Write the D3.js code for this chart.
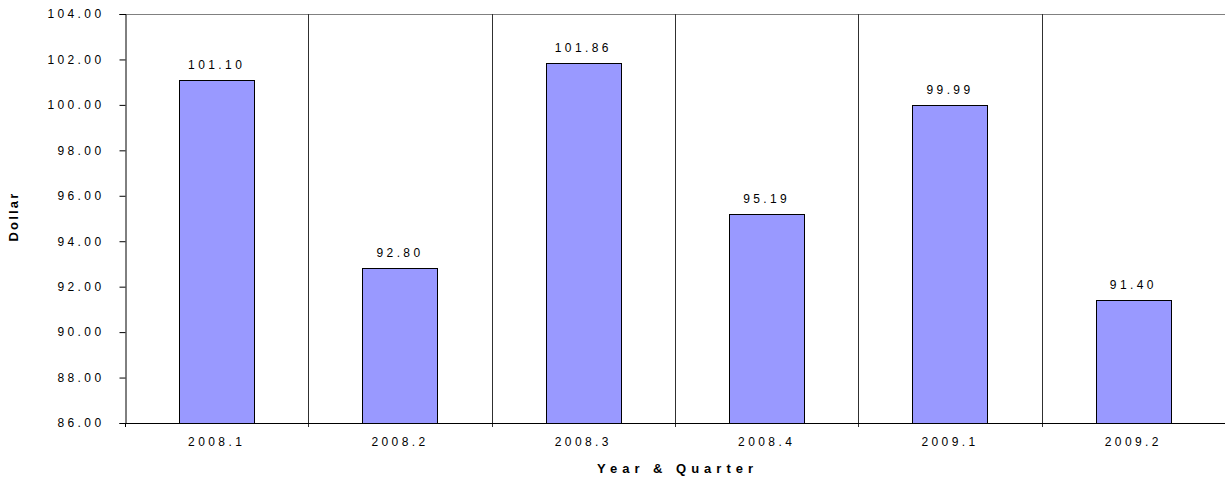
<!DOCTYPE html>
<html>
<head>
<meta charset="utf-8">
<script src="https://cdn.jsdelivr.net/npm/d3@7"></script>
<style>
  html, body { margin: 0; padding: 0; background: #fff; }
  svg { display: block; font-family: Arial, "Liberation Sans", sans-serif; }
</style>
</head>
<body>
<svg id="chart" width="1225" height="479"></svg>
<script>
const categories = ["2008.1", "2008.2", "2008.3", "2008.4", "2009.1", "2009.2"];
const values = [101.10, 92.80, 101.86, 95.19, 99.99, 91.40];
const yTicks = [86, 88, 90, 92, 94, 96, 98, 100, 102, 104];
const yTitle = "Dollar";
const xTitle = "Year & Quarter";

const svg = d3.select("#chart");
const margin = { left: 125, right: 0, top: 14, bottom: 56 };
const W = 1225, H = 479;
const plotW = W - margin.left - margin.right;
const plotH = H - margin.top - margin.bottom;

const x = d3.scaleBand().domain(categories).range([margin.left, margin.left + plotW]).paddingInner(0).paddingOuter(0);
const y = d3.scaleLinear().domain([86, 104]).range([margin.top + plotH, margin.top]);

const g = svg.append("g");

// top border
g.append("line")
  .attr("x1", margin.left).attr("x2", margin.left + plotW)
  .attr("y1", y(104) + 0.5).attr("y2", y(104) + 0.5)
  .attr("stroke", "#808080").attr("stroke-width", 1);

// category separators (extend below axis as ticks)
const bounds = categories.slice(1).map(c => x(c));
g.selectAll("line.sep").data(bounds).enter().append("line")
  .attr("class", "sep")
  .attr("x1", d => Math.round(d) + 0.5).attr("x2", d => Math.round(d) + 0.5)
  .attr("y1", y(104)).attr("y2", y(86) + 4)
  .attr("stroke", "#303030").attr("stroke-width", 1);

// bars
const bw = x.bandwidth() * 0.41;
g.selectAll("rect.bar").data(values).enter().append("rect")
  .attr("class", "bar")
  .attr("x", (d, i) => Math.round(x(categories[i]) + x.bandwidth() / 2 - bw / 2) + 0.5)
  .attr("y", d => Math.round(y(d)) + 0.5)
  .attr("width", Math.round(bw))
  .attr("height", d => Math.round(y(86)) - Math.round(y(d)))
  .attr("fill", "#9999FF")
  .attr("stroke", "#000").attr("stroke-width", 1);

// value labels
g.selectAll("text.val").data(values).enter().append("text")
  .attr("class", "val")
  .attr("x", (d, i) => x(categories[i]) + x.bandwidth() / 2)
  .attr("y", d => y(d) - 11)
  .attr("text-anchor", "middle")
  .attr("font-size", "12px")
  .attr("letter-spacing", "3.4px")
  .attr("fill", "#000")
  .text(d => d.toFixed(2));

// y axis
const yAxis = d3.axisLeft(y).tickValues(yTicks).tickSize(6).tickPadding(15)
  .tickFormat(d => d3.format(".2f")(d));
const ya = g.append("g").attr("transform", `translate(${margin.left + 0.5},0)`).call(yAxis);
ya.select(".domain").attr("stroke", "#000");
ya.selectAll(".tick line").attr("stroke", "#000");
ya.selectAll(".tick text").attr("font-size", "12px").attr("letter-spacing", "3.4px")
  .attr("font-family", "Arial, 'Liberation Sans', sans-serif").attr("fill", "#000");

// x axis
const xAxis = d3.axisBottom(x).tickSize(0).tickPadding(14);
const xa = g.append("g").attr("transform", `translate(0,${Math.round(y(86)) + 0.5})`).call(xAxis);
xa.select(".domain").attr("stroke", "#000").attr("d", `M${margin.left},0H${margin.left + plotW}`);
xa.selectAll(".tick text").attr("font-size", "12px").attr("letter-spacing", "3.4px")
  .attr("font-family", "Arial, 'Liberation Sans', sans-serif").attr("fill", "#000");
// first x tick at left edge
g.append("line")
  .attr("x1", margin.left + 0.5).attr("x2", margin.left + 0.5)
  .attr("y1", y(86)).attr("y2", y(86) + 4)
  .attr("stroke", "#000");

// axis titles
svg.append("text")
  .attr("x", margin.left + plotW / 2 + 2.5)
  .attr("y", 473)
  .attr("text-anchor", "middle")
  .attr("font-size", "13px").attr("font-weight", "bold")
  .attr("letter-spacing", "5px")
  .text(xTitle);

svg.append("text")
  .attr("transform", `translate(17.5,${margin.top + plotH / 2 - 2}) rotate(-90)`)
  .attr("text-anchor", "middle")
  .attr("font-size", "13px").attr("font-weight", "bold")
  .attr("letter-spacing", "2.2px")
  .text(yTitle);
</script>
</body>
</html>
